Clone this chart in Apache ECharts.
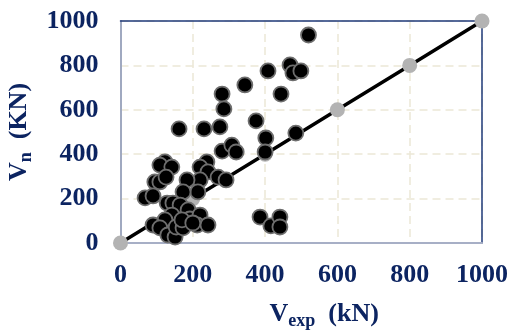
<!DOCTYPE html>
<html>
<head>
<meta charset="utf-8">
<script src="https://cdn.jsdelivr.net/npm/echarts@6/dist/echarts.min.js"></script>
<style>
html,body{margin:0;padding:0;background:#fff;}
#c{width:510px;height:330px;}
</style>
</head>
<body>
<div id="c"></div>
<script>
// Experimental shear strength V_exp (kN)
const vexp = [520,408,469,477,499,344,444,281,286,162,231,275,375,485,402,400,281,308,320,
  239,220,242,270,292,220,184,214,173,
  123,109,142,95,109,126,68,90,
  129,145,165,187,142,123,90,109,131,151,154,173,192,220,212,242,170,200,
  386,416,441,441];
// Predicted shear strength V_n (kN)
const vn = [937,775,802,766,775,712,671,671,604,514,514,523,550,495,473,410,414,441,410,
  365,342,320,297,284,284,284,230,230,
  365,351,342,275,275,297,203,212,
  180,180,171,149,126,104,81,68,36,27,72,68,108,126,81,81,104,90,
  117,77,117,72];
// 1:1 reference line points / tick values
const ticks = [0,200,400,600,800,1000];

const navy = '#0c2461';
const font = '"Liberation Serif","Times New Roman",serif';

const chart = echarts.init(document.getElementById('c'), null, {renderer:'canvas'});
const richX = {
  v:{fontSize:26, fontWeight:'bold', fontFamily:font, color:navy, lineHeight:32, verticalAlign:'middle'},
  s:{fontSize:18, fontWeight:'bold', fontFamily:font, color:navy, lineHeight:12, verticalAlign:'bottom'}
};
const richY = {
  v:{fontSize:26, fontWeight:'bold', fontFamily:font, color:navy, lineHeight:32, verticalAlign:'middle'},
  s:{fontSize:18, fontWeight:'bold', fontFamily:font, color:navy, lineHeight:18, verticalAlign:'bottom'}
};
const splitLine = {show:true, lineStyle:{color:'#ece8d6', width:1.5, type:[8,5]}};
const lbl = {fontSize:26, fontWeight:'bold', fontFamily:font, color:navy, formatter:v=>String(v)};
const mn = ticks[0], mx = ticks[ticks.length-1];
chart.setOption({
  animation:false,
  backgroundColor:'#fff',
  grid:{left:120.5, right:28, top:21, bottom:87, containLabel:false, outerBoundsMode:'none'},
  xAxis:[{
    type:'value', min:mn, max:mx, interval:200,
    axisLine:{show:true, onZero:false, lineStyle:{color:'#a7afc6', width:2}},
    axisTick:{show:false},
    splitLine:splitLine,
    axisLabel:Object.assign({margin:19}, lbl),
    name:'{v|V}{s|exp}{v|  (kN)}', nameLocation:'middle', nameGap:55,
    nameTextStyle:{rich:richX, padding:[0,0,0,46]}
  },{
    type:'value', position:'top', min:mn, max:mx, interval:200,
    axisLine:{show:true, onZero:false, lineStyle:{color:'#1f3a7a', width:1.5}},
    axisTick:{show:false}, axisLabel:{show:false}, splitLine:{show:false}
  }],
  yAxis:[{
    type:'value', min:mn, max:mx, interval:200,
    axisLine:{show:true, onZero:false, lineStyle:{color:'#a0a9c0', width:2}},
    axisTick:{show:false},
    splitLine:splitLine,
    axisLabel:Object.assign({margin:22}, lbl),
    name:'{v|V}{s|n}{v|  (KN)}', nameLocation:'middle', nameGap:77,
    nameTextStyle:{rich:richY}
  },{
    type:'value', position:'right', min:mn, max:mx, interval:200,
    axisLine:{show:true, onZero:false, lineStyle:{color:'#1f3a7a', width:1.5}},
    axisTick:{show:false}, axisLabel:{show:false}, splitLine:{show:false}
  }],
  series:[
    {
      type:'line', data:ticks.map(t=>[t,t]), clip:false, z:2,
      lineStyle:{color:'#000', width:3.5},
      symbol:'circle', symbolSize:15,
      itemStyle:{color:'#b3b3b3', borderWidth:0, opacity:1}
    },
    {
      type:'scatter', data:vexp.map((x,i)=>[x,vn[i]]), z:3, clip:false,
      symbol:'circle', symbolSize:15,
      itemStyle:{color:'#000', borderColor:'#6e6e6e', borderWidth:1.8, opacity:1}
    }
  ]
});
</script>
</body>
</html>
